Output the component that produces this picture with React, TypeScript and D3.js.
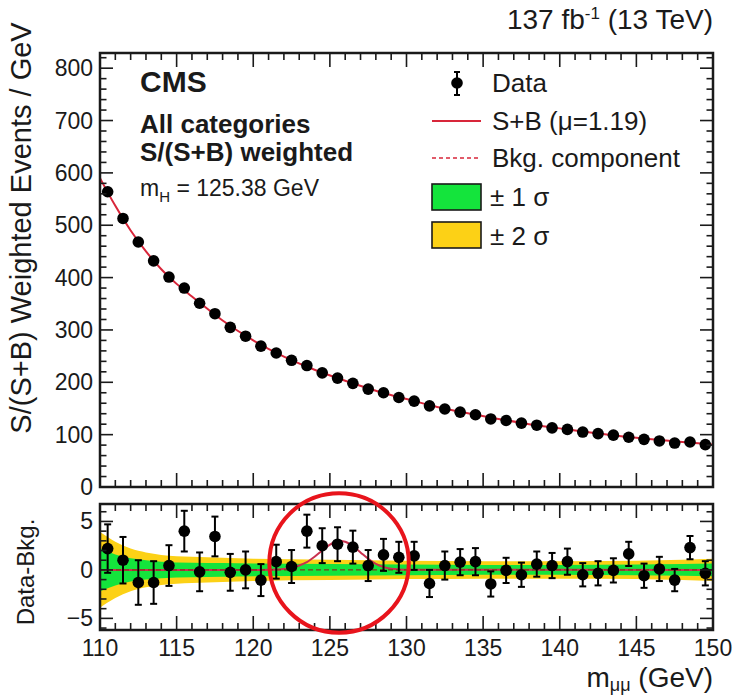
import React from "react";
import * as d3 from "d3";

// bin centres (GeV)
const massBins = [
  110.5, 111.5, 112.5, 113.5, 114.5, 115.5, 116.5, 117.5, 118.5, 119.5,
  120.5, 121.5, 122.5, 123.5, 124.5, 125.5, 126.5, 127.5, 128.5, 129.5,
  130.5, 131.5, 132.5, 133.5, 134.5, 135.5, 136.5, 137.5, 138.5, 139.5,
  140.5, 141.5, 142.5, 143.5, 144.5, 145.5, 146.5, 147.5, 148.5, 149.5,
];

// top panel: S/(S+B) weighted events per GeV
const weightedEvents = [
  564, 513, 468, 432, 401, 380, 351, 331, 305, 288,
  269, 256, 242, 232, 218, 208, 198, 187, 180, 171,
  164, 155, 149, 143, 138, 130, 127, 122, 118, 113,
  110, 105, 102, 99, 95, 91, 88, 84, 86, 81,
];

// bottom panel: data - bkg and its error
const residuals = [
  2.2, 1.0, -1.3, -1.3, 0.45, 4.0, -0.2, 3.45, -0.25, 0.0,
  -1.05, 0.85, 0.35, 4.0, 2.5, 2.65, 2.35, 0.45, 1.55, 1.3,
  1.45, -1.4, 0.45, 0.8, 0.85, -1.45, -0.05, -0.5, 0.6, 0.45,
  0.85, -0.5, -0.35, -0.05, 1.65, -0.6, 0.1, -1.05, 2.3, -0.35,
];
const residualErr = [
  2.5, 2.4, 2.3, 2.2, 2.1, 2.1, 2.0, 2.05, 1.9, 1.9,
  1.65, 1.75, 1.7, 1.7, 1.8, 1.75, 1.7, 1.6, 1.65, 1.6,
  1.45, 1.4, 1.45, 1.35, 1.4, 1.3, 1.3, 1.25, 1.3, 1.3,
  1.35, 1.2, 1.25, 1.25, 1.25, 1.25, 1.25, 1.15, 1.2, 1.25,
];

// S+B fit
const fitMass = [110, 111, 112, 113, 114, 115, 116, 118, 120, 122, 124, 126, 128, 130, 132, 134, 136, 138, 140, 142, 144, 146, 148, 150];
const fitValue = [590, 537, 490, 450, 416, 388, 364, 318, 280, 249, 224, 203, 184, 168, 153, 141, 130, 120, 112, 104, 97, 91, 86, 81];

// signal component in the ratio panel
const sigMass = [110, 120, 121, 121.5, 122, 122.5, 123, 123.5, 124, 124.5, 125, 125.5, 126, 126.5, 127, 127.5, 128, 128.5, 129, 129.5, 130, 150];
const sigValue = [0, 0, 0.02, 0.05, 0.1, 0.2, 0.45, 0.8, 1.35, 2.0, 2.6, 3.0, 2.9, 2.45, 1.8, 1.15, 0.62, 0.3, 0.12, 0.05, 0.02, 0];

// uncertainty bands
const bandMass = [110, 111, 112, 113, 114, 116, 118, 120, 125, 130, 135, 140, 145, 148, 150];
const band1 = [2.2, 1.6, 1.2, 1.0, 0.85, 0.75, 0.7, 0.65, 0.6, 0.55, 0.5, 0.5, 0.55, 0.6, 0.65];
const band2 = [3.9, 2.9, 2.2, 1.8, 1.55, 1.35, 1.25, 1.15, 1.05, 0.95, 0.9, 0.9, 0.95, 1.05, 1.15];

const xTicks = [110, 115, 120, 125, 130, 135, 140, 145, 150];
const yTopTicks = [0, 100, 200, 300, 400, 500, 600, 700, 800];
const yBotTicks = [-5, 0, 5];

// red highlight circle (annotation)
const markMass = 125.6;
const markValue = 0.72;
const markRadius = 4.55;

const W = 739;
const H = 696;
const L = 100;
const R = 713;
const TOP_T = 53;
const TOP_B = 487;
const BOT_T = 504;
const BOT_B = 630;

const FONT = "'Liberation Sans', Arial, Helvetica, sans-serif";
const INK = "#1a1a1a";
const RED = "#d8263a";
const GREEN = "#14e43c";
const YELLOW = "#fcd116";

export default function App() {
  const x = d3.scaleLinear().domain([110, 150]).range([L, R]);
  const yTop = d3.scaleLinear().domain([0, 829]).range([TOP_B, TOP_T]);
  const yBot = d3.scaleLinear().domain([-6.2, 6.8]).range([BOT_B, BOT_T]);

  const fitLine = d3
    .line<number>()
    .x((_, i) => x(fitMass[i]))
    .y((d) => yTop(d))
    .curve(d3.curveMonotoneX)(fitValue);

  const sigLine = d3
    .line<number>()
    .x((_, i) => x(sigMass[i]))
    .y((d) => yBot(d))
    .curve(d3.curveMonotoneX)(sigValue);

  const bandArea = (w: number[]) =>
    d3
      .area<number>()
      .x((_, i) => x(bandMass[i]))
      .y0((d) => yBot(-d))
      .y1((d) => yBot(d))
      .curve(d3.curveMonotoneX)(w);

  const minorX = d3.range(110, 150.01, 1);
  const minorYTop = d3.range(0, 829, 20);
  const minorYBot = d3.range(-6, 6.9, 1);

  // ticks on all four sides of a frame
  const frameTicks = (
    top: number,
    bottom: number,
    yScale: d3.ScaleLinear<number, number>,
    yMajor: number[],
    yMinor: number[],
    key: string
  ) => (
    <g stroke={INK} strokeWidth={1.6} key={key}>
      {minorX.map((v) => {
        const major = xTicks.includes(v);
        const len = major ? 14 : 7;
        return (
          <g key={"x" + v}>
            <line x1={x(v)} x2={x(v)} y1={bottom} y2={bottom - len} />
            <line x1={x(v)} x2={x(v)} y1={top} y2={top + len} />
          </g>
        );
      })}
      {yMinor.map((v) => {
        const major = yMajor.includes(v);
        const len = major ? 13 : 6.5;
        return (
          <g key={"y" + v}>
            <line x1={L} x2={L + len} y1={yScale(v)} y2={yScale(v)} />
            <line x1={R} x2={R - len} y1={yScale(v)} y2={yScale(v)} />
          </g>
        );
      })}
    </g>
  );

  return (
    <svg
      width={W}
      height={H}
      style={{ position: "absolute", left: 0, top: 0, background: "#fff" }}
      fontFamily={FONT}
    >
      <defs>
        <clipPath id="botClip">
          <rect x={L} y={BOT_T} width={R - L} height={BOT_B - BOT_T} />
        </clipPath>
      </defs>

      <text x={R} y={29} textAnchor="end" fontSize={28} fill={INK}>
        137 fb
        <tspan dy={-10} fontSize={17}>-1</tspan>
        <tspan dy={10}> (13 TeV)</tspan>
      </text>

      {/* top panel */}
      <path d={fitLine ?? ""} fill="none" stroke={RED} strokeWidth={2} />
      {massBins.map((m, i) => (
        <circle key={m} cx={x(m)} cy={yTop(weightedEvents[i])} r={5.8} fill="#000" />
      ))}
      {frameTicks(TOP_T, TOP_B, yTop, yTopTicks, minorYTop, "tt")}
      <rect x={L} y={TOP_T} width={R - L} height={TOP_B - TOP_T} fill="none" stroke={INK} strokeWidth={2.5} />
      {yTopTicks.map((v) => (
        <text key={v} x={L - 7} y={yTop(v) + 8} textAnchor="end" fontSize={23} fill={INK}>
          {v}
        </text>
      ))}
      <text
        transform={`translate(${31},${228}) rotate(-90)`}
        textAnchor="middle"
        fontSize={29}
        fill={INK}
      >
        S/(S+B) Weighted Events / GeV
      </text>

      <text x={140} y={92} fontSize={30} fontWeight="bold" fill={INK}>CMS</text>
      <text x={140} y={133} fontSize={26} fontWeight="bold" fill={INK}>All categories</text>
      <text x={140} y={161} fontSize={26} fontWeight="bold" fill={INK}>S/(S+B) weighted</text>
      <text x={140} y={196} fontSize={23} fill={INK}>
        m<tspan dy={6} fontSize={15}>H</tspan>
        <tspan dy={-6}> = 125.38 GeV</tspan>
      </text>

      {/* legend */}
      <g fill={INK} fontSize={26}>
        <line x1={457} x2={457} y1={72} y2={95} stroke="#000" strokeWidth={2} />
        <line x1={454} x2={460} y1={72} y2={72} stroke="#000" strokeWidth={2} />
        <line x1={454} x2={460} y1={95} y2={95} stroke="#000" strokeWidth={2} />
        <circle cx={457} cy={83} r={5.8} fill="#000" />
        <text x={492} y={92}>Data</text>
        <line x1={432} x2={481} y1={121} y2={121} stroke={RED} strokeWidth={2} />
        <text x={492} y={130}>S+B (μ=1.19)</text>
        <line x1={432} x2={481} y1={158} y2={158} stroke={RED} strokeWidth={1.6} strokeDasharray="4 3" />
        <text x={492} y={167}>Bkg. component</text>
        <rect x={432} y={184} width={49} height={26} fill={GREEN} stroke={INK} strokeWidth={1.6} />
        <text x={490} y={206}>± 1 σ</text>
        <rect x={432} y={222} width={49} height={26} fill={YELLOW} stroke={INK} strokeWidth={1.6} />
        <text x={490} y={245}>± 2 σ</text>
      </g>

      {/* bottom panel */}
      <g clipPath="url(#botClip)">
        <path d={bandArea(band2) ?? ""} fill={YELLOW} />
        <path d={bandArea(band1) ?? ""} fill={GREEN} />
        <path d={sigLine ?? ""} fill="none" stroke="#c8304e" strokeWidth={2} />
        <line x1={L} x2={R} y1={yBot(0)} y2={yBot(0)} stroke="#7a3a1a" strokeWidth={1.4} strokeDasharray="5 3" />
        {massBins.map((m, i) => {
          const cx = x(m);
          const y1 = yBot(residuals[i] + residualErr[i]);
          const y2 = yBot(residuals[i] - residualErr[i]);
          return (
            <g key={m} stroke="#000" strokeWidth={2}>
              <line x1={cx} x2={cx} y1={y1} y2={y2} />
              <line x1={cx - 3.5} x2={cx + 3.5} y1={y1} y2={y1} />
              <line x1={cx - 3.5} x2={cx + 3.5} y1={y2} y2={y2} />
              <circle cx={cx} cy={yBot(residuals[i])} r={5.8} fill="#000" stroke="none" />
            </g>
          );
        })}
      </g>
      {frameTicks(BOT_T, BOT_B, yBot, yBotTicks, minorYBot, "bt")}
      <rect x={L} y={BOT_T} width={R - L} height={BOT_B - BOT_T} fill="none" stroke={INK} strokeWidth={2.5} />
      {yBotTicks.map((v) => (
        <text key={v} x={L - 7} y={yBot(v) + 8} textAnchor="end" fontSize={23} fill={INK}>
          {v < 0 ? "\u2212" + Math.abs(v) : v}
        </text>
      ))}
      <text
        transform={`translate(${34},${572}) rotate(-90)`}
        textAnchor="middle"
        fontSize={24}
        fill={INK}
      >
        Data-Bkg.
      </text>
      {xTicks.map((v) => (
        <text key={v} x={x(v)} y={656} textAnchor="middle" fontSize={23} fill={INK}>
          {v}
        </text>
      ))}
      <text x={R} y={687} textAnchor="end" fontSize={28} fill={INK}>
        m<tspan dy={4} fontSize={18}>μμ</tspan>
        <tspan dy={-4}> (GeV)</tspan>
      </text>

      {/* highlight circle */}
      <circle
        cx={x(markMass)}
        cy={yBot(markValue)}
        r={x(110 + markRadius) - x(110)}
        fill="none"
        stroke="#e8141c"
        strokeWidth={4}
      />
    </svg>
  );
}
